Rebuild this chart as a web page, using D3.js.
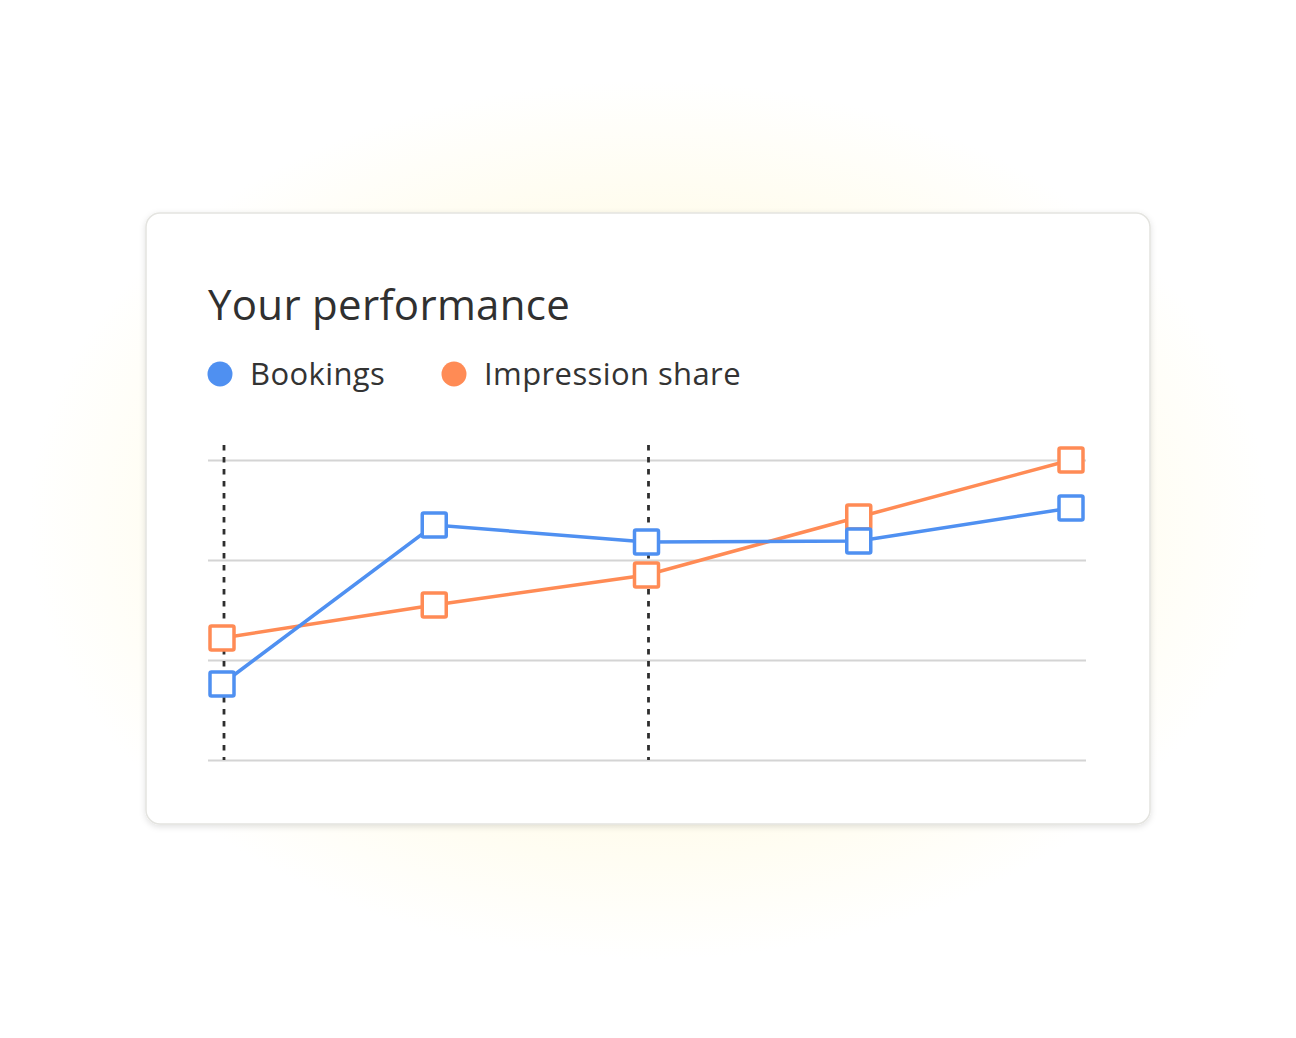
<!DOCTYPE html>
<html>
<head>
<meta charset="utf-8">
<script src="https://cdn.jsdelivr.net/npm/d3@7"></script>
<style>
  html, body { margin: 0; padding: 0; background: #fff; }
  svg { display: block; }
</style>
</head>
<body>
<div id="chart"></div>
<script>
// chart values
var periods = ["P1", "P2", "P3", "P4", "P5"];
var bookings = [0.76, 2.35, 2.18, 2.19, 2.52];
var impressionShare = [1.22, 1.55, 1.85, 2.43, 3.0];
var gridTicks = [0, 1, 2, 3];
var markedPeriods = ["P1", "P3"];
var seriesNames = ["Bookings", "Impression share"];

var blue = "#4f90f1", orange = "#ff8b55";

var svg = d3.select("#chart").append("svg")
    .attr("width", 1296)
    .attr("height", 1038);

var defs = svg.append("defs");

// soft yellow glow behind the card
var glow = defs.append("radialGradient")
    .attr("id", "glow")
    .attr("cx", "50%").attr("cy", "50%").attr("r", "50%");
glow.append("stop").attr("offset", "0%").attr("stop-color", "#fff6c8");
glow.append("stop").attr("offset", "55%").attr("stop-color", "#fffbe6");
glow.append("stop").attr("offset", "100%").attr("stop-color", "#ffffff");

var shadow = defs.append("filter").attr("id", "shadow")
    .attr("x", "-10%").attr("y", "-10%").attr("width", "120%").attr("height", "120%");
shadow.append("feDropShadow")
    .attr("dx", 0).attr("dy", 2).attr("stdDeviation", 3)
    .attr("flood-color", "#000").attr("flood-opacity", 0.12);

svg.append("ellipse")
    .attr("cx", 648).attr("cy", 520)
    .attr("rx", 620).attr("ry", 440)
    .attr("fill", "url(#glow)");

// card
svg.append("rect")
    .attr("x", 146).attr("y", 213)
    .attr("width", 1004).attr("height", 611)
    .attr("rx", 14)
    .attr("fill", "#fff")
    .attr("stroke", "#e4e4e0")
    .attr("stroke-width", 1.5)
    .attr("filter", "url(#shadow)");

// title
svg.append("text")
    .attr("x", 208).attr("y", 320)
    .attr("font-family", "'Open Sans', Roboto, sans-serif")
    .attr("font-size", 42)
    .attr("font-weight", 500)
    .attr("letter-spacing", 0.3)
    .attr("fill", "#303030")
    .text("Your performance");

// legend
var legendX = [220, 454];
var legend = svg.selectAll("g.legend")
    .data(seriesNames)
    .enter().append("g")
    .attr("class", "legend")
    .attr("transform", function(d, i) { return "translate(" + legendX[i] + ",374)"; });

legend.append("circle")
    .attr("r", 12.5)
    .attr("fill", function(d, i) { return i == 0 ? blue : orange; });

legend.append("text")
    .attr("x", 30).attr("y", 11)
    .attr("font-family", "'Open Sans', Roboto, sans-serif")
    .attr("font-size", 31)
    .attr("letter-spacing", 0.4)
    .attr("fill", "#333")
    .text(function(d) { return d; });

// scales
var x = d3.scalePoint().domain(periods).range([222, 1071]);
var y = d3.scaleLinear().domain([0, 3]).range([760, 460]);

// gridlines
svg.append("g")
    .attr("transform", "translate(208,0)")
    .call(d3.axisLeft(y).tickValues(gridTicks).tickSize(-878).tickFormat(""))
    .call(function(g) { g.select(".domain").remove(); })
    .selectAll("line")
    .attr("stroke", "#d4d4d4")
    .attr("stroke-width", 1.8);

// dashed markers
svg.selectAll("line.mark")
    .data(markedPeriods)
    .enter().append("line")
    .attr("class", "mark")
    .attr("x1", function(d) { return x(d) + 2; })
    .attr("x2", function(d) { return x(d) + 2; })
    .attr("y1", 445).attr("y2", y(0))
    .attr("stroke", "#2e2e2e")
    .attr("stroke-width", 2.8)
    .attr("stroke-dasharray", "5.5,6.5");

// lines and markers
var line = d3.line()
    .x(function(d, i) { return x(periods[i]); })
    .y(function(d) { return y(d); });

function drawSeries(values, color) {
  svg.append("path")
      .datum(values)
      .attr("d", line)
      .attr("fill", "none")
      .attr("stroke", color)
      .attr("stroke-width", 3.5);

  svg.append("g").selectAll("rect")
      .data(values)
      .enter().append("rect")
      .attr("x", function(d, i) { return x(periods[i]) - 12; })
      .attr("y", function(d) { return y(d) - 12; })
      .attr("width", 24).attr("height", 24)
      .attr("rx", 1.5)
      .attr("fill", "#fff")
      .attr("stroke", color)
      .attr("stroke-width", 3.5);
}

drawSeries(impressionShare, orange);
drawSeries(bookings, blue);
</script>
</body>
</html>
